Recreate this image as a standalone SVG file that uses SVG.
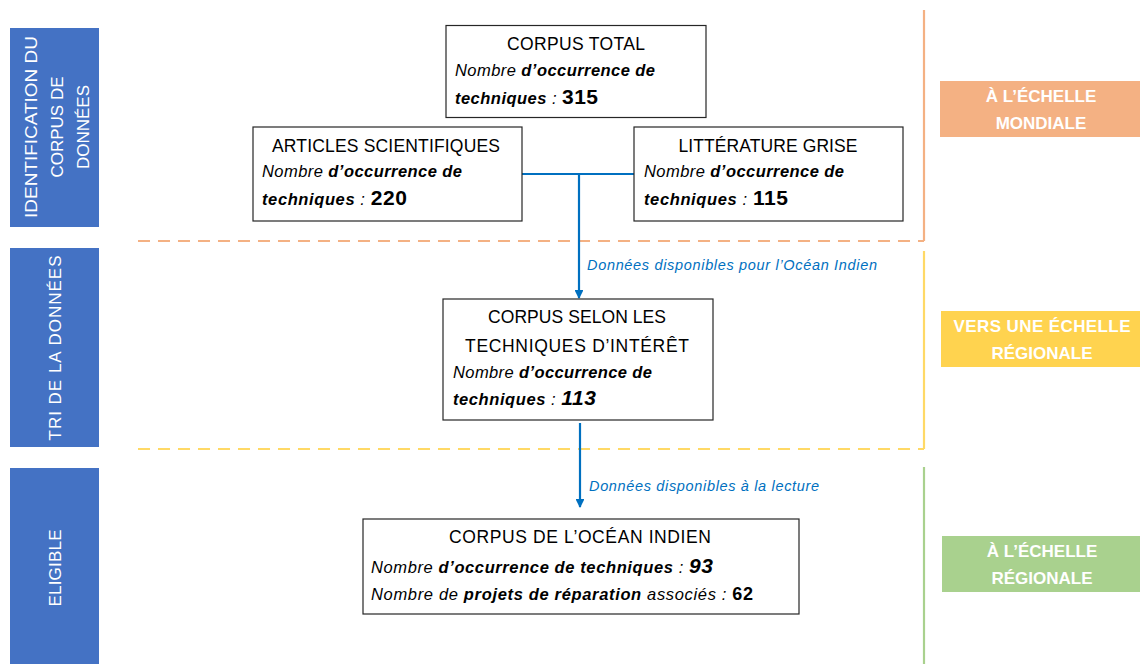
<svg xmlns="http://www.w3.org/2000/svg" width="1140" height="664" viewBox="0 0 1140 664">
<style>
.box{fill:#ffffff;stroke:#262626;stroke-width:1.2}
.side{fill:#4472C4}
.side-t{font-family:"Liberation Sans",Arial,sans-serif;font-size:17px;fill:#ffffff;text-anchor:middle}
.title{font-family:"Liberation Sans",Arial,sans-serif;font-size:17.5px;fill:#000000;text-anchor:middle}
.body{font-family:"Liberation Sans",Arial,sans-serif;font-size:16.5px;fill:#000000;font-style:italic}
.b{font-weight:bold}
.num{font-weight:bold;font-style:normal;font-size:21px}
.numi{font-weight:bold;font-style:italic;font-size:21px}
.lab{font-family:"Liberation Sans",Arial,sans-serif;font-size:17px;font-weight:bold;fill:#ffffff;text-anchor:middle}
.conn{fill:none;stroke:#0070C0;stroke-width:2.2}
.clab{font-family:"Liberation Sans",Arial,sans-serif;font-size:14.5px;font-style:italic;fill:#0070C0}
</style>
<defs>
<marker id="ah" viewBox="0 0 10 10" refX="9" refY="5" markerWidth="4" markerHeight="4" orient="auto" markerUnits="strokeWidth">
<path d="M0,0 L10,5 L0,10 z" fill="#0070C0"/>
</marker>
</defs>

<g id="zones">
<line x1="138" y1="241" x2="924" y2="241" stroke="#F4B183" stroke-width="2.2" stroke-dasharray="12,8"/>
<line x1="924" y1="10" x2="924" y2="241" stroke="#F4B183" stroke-width="2.2"/>
<line x1="138" y1="449" x2="924" y2="449" stroke="#FFD966" stroke-width="2.2" stroke-dasharray="12,8"/>
<line x1="924" y1="251" x2="924" y2="449" stroke="#FFD966" stroke-width="2.2"/>
<line x1="924" y1="467" x2="924" y2="664" stroke="#A9D18E" stroke-width="2.2"/>
</g>

<g id="side-identification">
<rect class="side" x="10" y="28" width="89" height="199"/>
<text class="side-t" transform="translate(37,127) rotate(-90)" textLength="182" lengthAdjust="spacingAndGlyphs">IDENTIFICATION DU</text>
<text class="side-t" transform="translate(63,127) rotate(-90)">CORPUS DE</text>
<text class="side-t" transform="translate(89,127) rotate(-90)">DONNÉES</text>
</g>
<g id="side-tri">
<rect class="side" x="10" y="248" width="89" height="199"/>
<text class="side-t" transform="translate(61,348) rotate(-90)" textLength="185" lengthAdjust="spacing">TRI DE LA DONNÉES</text>
</g>
<g id="side-eligible">
<rect class="side" x="10" y="468" width="89" height="196"/>
<text class="side-t" transform="translate(61,568) rotate(-90)" textLength="77" lengthAdjust="spacing">ELIGIBLE</text>
</g>

<g id="label-mondiale">
<rect x="940" y="81" width="200" height="56" fill="#F4B183"/>
<text class="lab" x="1041" y="102">À L’ÉCHELLE</text>
<text class="lab" x="1041" y="129">MONDIALE</text>
</g>
<g id="label-vers-regionale">
<rect x="941" y="311" width="199" height="56" fill="#FFD34F"/>
<text class="lab" x="1042" y="332" textLength="177">VERS UNE ÉCHELLE</text>
<text class="lab" x="1042" y="359">RÉGIONALE</text>
</g>
<g id="label-regionale">
<rect x="942" y="536" width="198" height="56" fill="#A9D18E"/>
<text class="lab" x="1042" y="557">À L’ÉCHELLE</text>
<text class="lab" x="1042" y="584">RÉGIONALE</text>
</g>

<g id="connectors">
<path class="conn" d="M522,174 H634"/>
<path class="conn" d="M579,174 V298" marker-end="url(#ah)"/>
<path class="conn" d="M580,423 V507" marker-end="url(#ah)"/>
<text class="clab" x="587" y="270" textLength="290">Données disponibles pour l’Océan Indien</text>
<text class="clab" x="589" y="491" textLength="230">Données disponibles à la lecture</text>
</g>

<g id="corpus-total">
<rect class="box" x="446" y="25.5" width="260" height="92"/>
<text class="title" x="576" y="50" textLength="138">CORPUS TOTAL</text>
<text class="body" x="455" y="76" textLength="200">Nombre <tspan class="b">d’occurrence de</tspan></text>
<text class="body" x="455" y="104" textLength="143"><tspan class="b">techniques </tspan> : <tspan class="num">315</tspan></text>
</g>

<g id="articles">
<rect class="box" x="253" y="127" width="269" height="94"/>
<text class="title" x="386" y="152" textLength="228">ARTICLES SCIENTIFIQUES</text>
<text class="body" x="262" y="177" textLength="200">Nombre <tspan class="b">d’occurrence de</tspan></text>
<text class="body" x="262" y="205" textLength="145"><tspan class="b">techniques </tspan> : <tspan class="num">220</tspan></text>
</g>

<g id="litterature">
<rect class="box" x="634" y="127" width="269" height="94"/>
<text class="title" x="768" y="152" textLength="179">LITTÉRATURE GRISE</text>
<text class="body" x="644" y="177" textLength="200">Nombre <tspan class="b">d’occurrence de</tspan></text>
<text class="body" x="644" y="205" textLength="144"><tspan class="b">techniques </tspan> : <tspan class="num">115</tspan></text>
</g>

<g id="corpus-selon">
<rect class="box" x="443" y="299" width="270" height="121"/>
<text class="title" x="577" y="323" textLength="178">CORPUS SELON LES</text>
<text class="title" x="577" y="352" textLength="224">TECHNIQUES D’INTÉRÊT</text>
<text class="body" x="453" y="378" textLength="199">Nombre <tspan class="b">d’occurrence de</tspan></text>
<text class="body" x="453" y="405" textLength="143"><tspan class="b">techniques </tspan> : <tspan class="numi">113</tspan></text>
</g>

<g id="corpus-oi">
<rect class="box" x="363" y="519" width="436" height="95"/>
<text class="title" x="580" y="543" textLength="262">CORPUS DE L’OCÉAN INDIEN</text>
<text class="body" x="371" y="573" textLength="342">Nombre  <tspan class="b">d’occurrence de techniques</tspan> : <tspan class="numi">93</tspan></text>
<text class="body" x="371" y="600" textLength="382">Nombre de <tspan class="b">projets de réparation</tspan>  associés : <tspan class="b" style="font-style:normal;font-size:18px">62</tspan></text>
</g>
</svg>
